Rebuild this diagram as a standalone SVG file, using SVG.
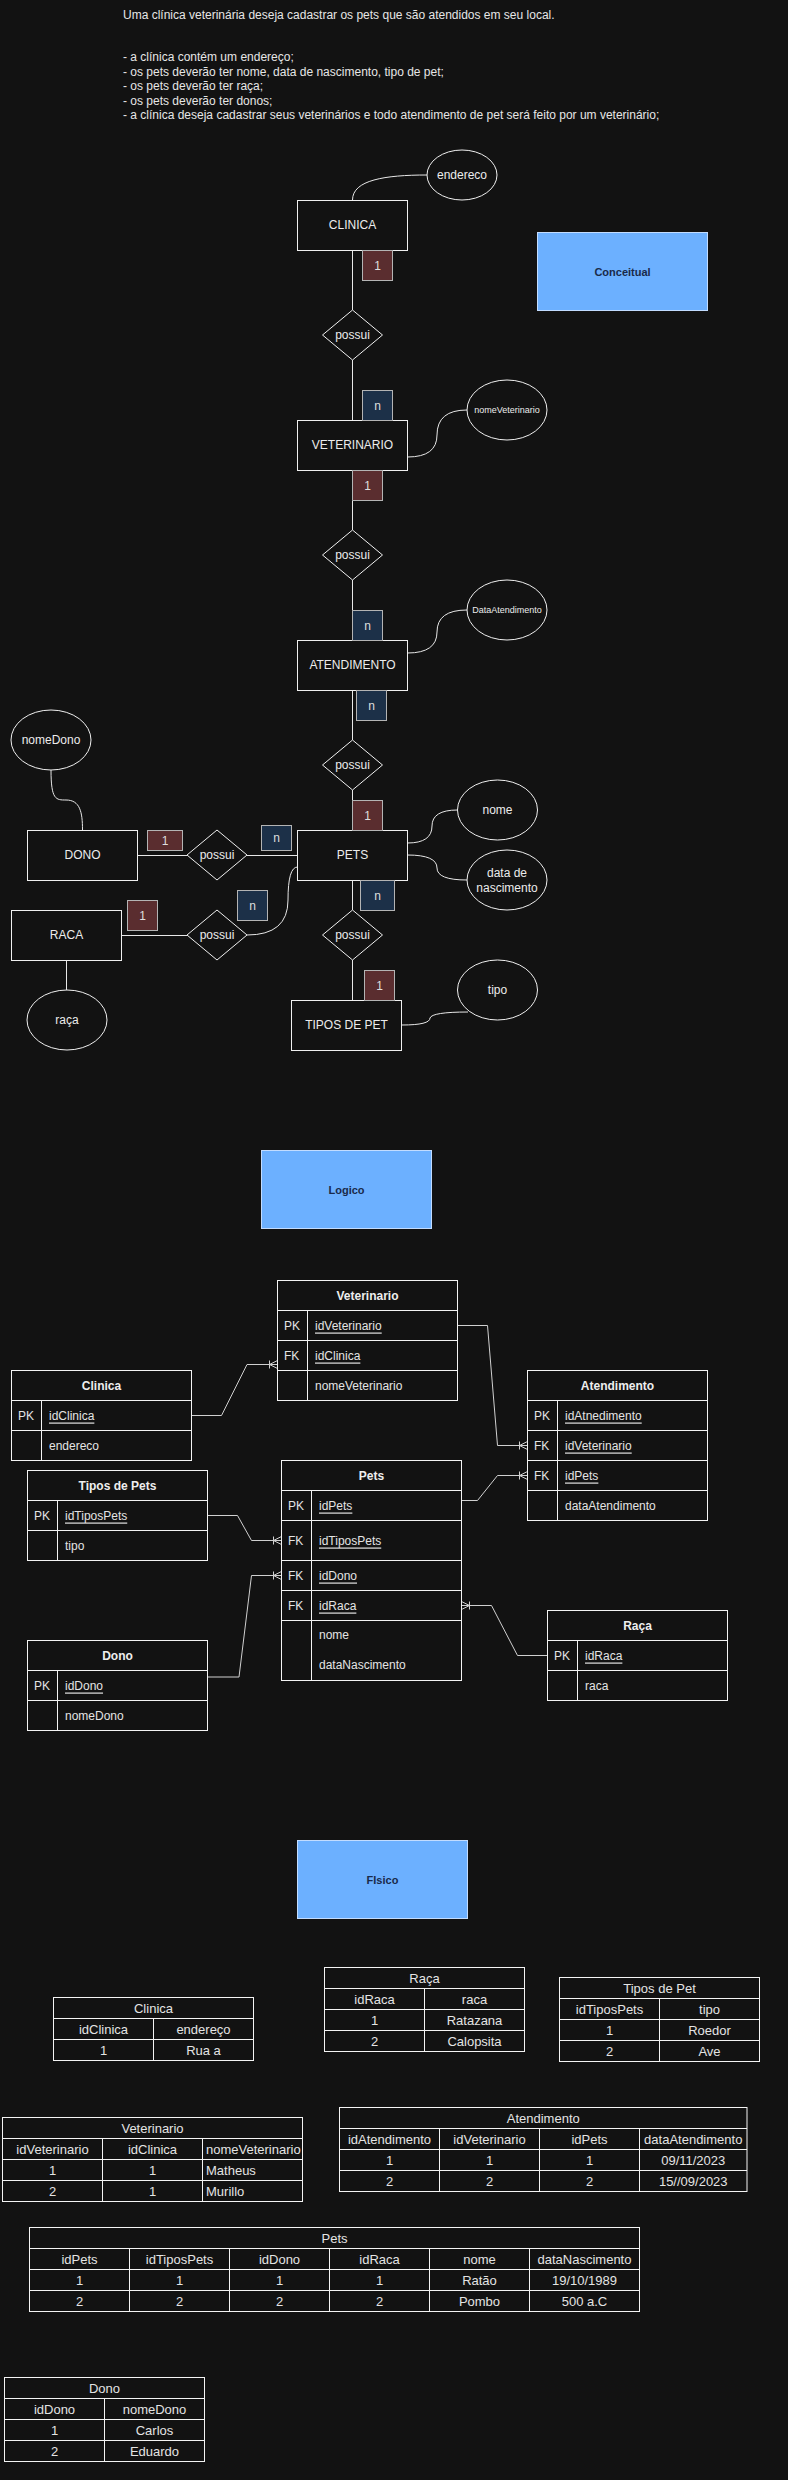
<svg xmlns="http://www.w3.org/2000/svg" width="788" height="2480" viewBox="0 0 788 2480">
<defs>
<style>
text{font-family:"Liberation Sans",Arial,Helvetica,sans-serif;fill:#ececec;}
.desc{font-size:12px;fill:#e6e6e6;}
.ent{fill:#121212;stroke:#f0f0f0;stroke-width:1;}
.lbl{font-size:12px;text-anchor:middle;dominant-baseline:central;}
.sm{font-size:9px;}
.one{fill:#5a2d2f;stroke:#b4b4b4;stroke-width:1;}
.many{fill:#1c3048;stroke:#b4b4b4;stroke-width:1;}
.card{font-size:12px;text-anchor:middle;dominant-baseline:central;fill:#dedede;}
.ln{fill:none;stroke:#e8e8e8;stroke-width:1;}
.blue{fill:#6cb0ff;stroke:#c2dcff;stroke-width:1;}
.btxt{font-size:11px;font-weight:bold;fill:#1a2a4a;text-anchor:middle;dominant-baseline:central;}
.tb{fill:#121212;stroke:#f4f4f4;stroke-width:1;}
.tl{stroke:#f4f4f4;stroke-width:1;fill:none;}
.th{font-size:12px;font-weight:bold;text-anchor:middle;dominant-baseline:central;fill:#eeeeee;}
.tk{font-size:12px;dominant-baseline:central;fill:#e4e4e4;}
.u{text-decoration:underline;}
.cn{fill:none;stroke:#d0d0d0;stroke-width:1;}
.pt{font-size:13px;text-anchor:middle;dominant-baseline:central;fill:#e4e4e4;}
.pl{font-size:13px;dominant-baseline:central;fill:#e4e4e4;}
</style>
<marker id="crow" viewBox="0 0 10 10" refX="10" refY="5" markerWidth="10" markerHeight="10" markerUnits="userSpaceOnUse" orient="auto">
<path d="M2,1 L2,9 M2,5 L10,1 M2,5 L10,9" fill="none" stroke="#d0d0d0" stroke-width="1"/>
</marker>
</defs>
<rect x="0" y="0" width="788" height="2480" fill="#121212"/>

<g id="descricao">
<text class="desc" x="123" y="18.5">Uma clínica veterinária deseja cadastrar os pets que são atendidos em seu local.</text>
<text class="desc" x="123" y="61">- a clínica contém um endereço;</text>
<text class="desc" x="123" y="75.5">- os pets deverão ter nome, data de nascimento, tipo de pet;</text>
<text class="desc" x="123" y="90">- os pets deverão ter raça;</text>
<text class="desc" x="123" y="104.5">- os pets deverão ter donos;</text>
<text class="desc" x="123" y="119">- a clínica deseja cadastrar seus veterinários e todo atendimento de pet será feito por um veterinário;</text>
</g>

<g id="conectores-conceitual">
<path class="ln" d="M352.5,250 L352.5,310 M352.5,360 L352.5,420 M352.5,470 L352.5,530 M352.5,580 L352.5,640 M352.5,690 L352.5,740 M352.5,790 L352.5,830 M352.5,880 L352.5,910 M352.5,960 L352.5,1000"/>
<path class="ln" d="M137.5,855.5 L187,855.5 M247,855.5 L297.5,855.5 M121.5,935.5 L187,935.5 M66.5,960 L66.5,990"/>
<path class="ln" d="M352.5,200 C352.5,180 385,175 427,175"/>
<path class="ln" d="M407.5,457 Q437,457 437,435 Q437,410 467,410"/>
<path class="ln" d="M407.5,653 Q437,653 437,632 Q437,610 467,610"/>
<path class="ln" d="M407.5,843 Q432,843 432,826 Q432,810 457.5,810"/>
<path class="ln" d="M407.5,855 Q437,855 437,868 Q437,880 467,880"/>
<path class="ln" d="M402,1025 Q430,1025 430,1018 Q432,1012 468,1012"/>
<path class="ln" d="M51,770 C51,800 56,800 66,800 C80,800 82.5,812 82.5,830"/>
<path class="ln" d="M247,935 Q288,935 288,900 Q288,867 297.5,867"/>
</g>

<g id="clinica"><rect class="ent" x="297.5" y="200.5" width="110" height="50"/><text class="lbl" x="352.5" y="225">CLINICA</text></g>
<g id="veterinario"><rect class="ent" x="297.5" y="420.5" width="110" height="50"/><text class="lbl" x="352.5" y="445">VETERINARIO</text></g>
<g id="atendimento"><rect class="ent" x="297.5" y="640.5" width="110" height="50"/><text class="lbl" x="352.5" y="665">ATENDIMENTO</text></g>
<g id="pets"><rect class="ent" x="297.5" y="830.5" width="110" height="50"/><text class="lbl" x="352.5" y="855">PETS</text></g>
<g id="tipos-de-pet"><rect class="ent" x="291.5" y="1000.5" width="110" height="50"/><text class="lbl" x="346.5" y="1025">TIPOS DE PET</text></g>
<g id="dono"><rect class="ent" x="27.5" y="830.5" width="110" height="50"/><text class="lbl" x="82.5" y="855">DONO</text></g>
<g id="raca"><rect class="ent" x="11.5" y="910.5" width="110" height="50"/><text class="lbl" x="66.5" y="935">RACA</text></g>

<g id="possui1"><polygon class="ent" points="352.5,310 382.5,335 352.5,360 322.5,335"/><text class="lbl" x="352.5" y="335">possui</text></g>
<g id="possui2"><polygon class="ent" points="352.5,530 382.5,555 352.5,580 322.5,555"/><text class="lbl" x="352.5" y="555">possui</text></g>
<g id="possui3"><polygon class="ent" points="352.5,740 382.5,765 352.5,790 322.5,765"/><text class="lbl" x="352.5" y="765">possui</text></g>
<g id="possui4"><polygon class="ent" points="352.5,910 382.5,935 352.5,960 322.5,935"/><text class="lbl" x="352.5" y="935">possui</text></g>
<g id="possui5"><polygon class="ent" points="217,830 247,855 217,880 187,855"/><text class="lbl" x="217" y="855">possui</text></g>
<g id="possui6"><polygon class="ent" points="217,910 247,935 217,960 187,935"/><text class="lbl" x="217" y="935">possui</text></g>

<g id="attr-endereco"><ellipse class="ent" cx="462" cy="175" rx="35" ry="25"/><text class="lbl" x="462" y="175">endereco</text></g>
<g id="attr-nomeVeterinario"><ellipse class="ent" cx="507" cy="410" rx="40" ry="30"/><text class="lbl sm" x="507" y="410">nomeVeterinario</text></g>
<g id="attr-DataAtendimento"><ellipse class="ent" cx="507" cy="610" rx="40" ry="30"/><text class="lbl sm" x="507" y="610">DataAtendimento</text></g>
<g id="attr-nome"><ellipse class="ent" cx="497.5" cy="810" rx="40" ry="30"/><text class="lbl" x="497.5" y="810">nome</text></g>
<g id="attr-dataNascimento"><ellipse class="ent" cx="507" cy="880" rx="40" ry="30"/><text class="lbl" x="507" y="873">data de</text><text class="lbl" x="507" y="888">nascimento</text></g>
<g id="attr-tipo"><ellipse class="ent" cx="497.5" cy="990" rx="40" ry="30"/><text class="lbl" x="497.5" y="990">tipo</text></g>
<g id="attr-nomeDono"><ellipse class="ent" cx="51" cy="740" rx="40" ry="30"/><text class="lbl" x="51" y="740">nomeDono</text></g>
<g id="attr-raca"><ellipse class="ent" cx="67" cy="1020" rx="40" ry="30"/><text class="lbl" x="67" y="1020">raça</text></g>

<g id="cardinalidades">
<rect class="one" x="362.5" y="250.5" width="30" height="30"/><text class="card" x="377.5" y="265.5">1</text>
<rect class="many" x="362.5" y="390.5" width="30" height="30"/><text class="card" x="377.5" y="405.5">n</text>
<rect class="one" x="352.5" y="470.5" width="30" height="30"/><text class="card" x="367.5" y="485.5">1</text>
<rect class="many" x="352.5" y="610.5" width="30" height="30"/><text class="card" x="367.5" y="625.5">n</text>
<rect class="many" x="356.5" y="690.5" width="30" height="30"/><text class="card" x="371.5" y="705.5">n</text>
<rect class="one" x="352.5" y="800.5" width="30" height="30"/><text class="card" x="367.5" y="815.5">1</text>
<rect class="one" x="147.5" y="830.5" width="35" height="20"/><text class="card" x="165" y="840.5">1</text>
<rect class="many" x="261.5" y="825.5" width="30" height="25"/><text class="card" x="276.5" y="838">n</text>
<rect class="many" x="360.5" y="880.5" width="34" height="30"/><text class="card" x="377.5" y="895.5">n</text>
<rect class="one" x="364.5" y="970.5" width="30" height="30"/><text class="card" x="379.5" y="985.5">1</text>
<rect class="one" x="127.5" y="900.5" width="30" height="30"/><text class="card" x="142.5" y="915.5">1</text>
<rect class="many" x="237.5" y="890.5" width="30" height="30"/><text class="card" x="252.5" y="905.5">n</text>
</g>

<g id="conceitual"><rect class="blue" x="537.5" y="232.5" width="170" height="78"/><text class="btxt" x="622.5" y="271.5">Conceitual</text></g>
<g id="logico"><rect class="blue" x="261.5" y="1150.5" width="170" height="78"/><text class="btxt" x="346.5" y="1189.5">Logico</text></g>
<g id="fisico"><rect class="blue" x="297.5" y="1840.5" width="170" height="78"/><text class="btxt" x="382.5" y="1879.5">FIsico</text></g>

<g id="conectores-logico">
<path class="cn" d="M191.5,1415.5 L221.5,1415.5 L247,1364.5 L277.5,1364.5" marker-end="url(#crow)"/>
<path class="cn" d="M457.5,1325.5 L487.5,1325.5 L497.5,1445.5 L527.5,1445.5" marker-end="url(#crow)"/>
<path class="cn" d="M447.5,1500.5 L477.5,1500.5 L497.5,1475.5 L527.5,1475.5" marker-end="url(#crow)"/>
<path class="cn" d="M207.5,1515.5 L237.5,1515.5 L251.5,1540.5 L281.5,1540.5" marker-end="url(#crow)"/>
<path class="cn" d="M207.5,1677 L239,1677 L251.5,1575.5 L281.5,1575.5" marker-end="url(#crow)"/>
<path class="cn" d="M547.5,1655.5 L517.5,1655.5 L491.5,1605.5 L461.5,1605.5" marker-end="url(#crow)"/>
</g>

<g id="l-veterinario">
<rect class="tb" x="277.5" y="1280.5" width="180" height="120"/>
<path class="tl" d="M277.5,1310.5 H457.5 M277.5,1340.5 H457.5 M277.5,1370.5 H457.5 M307.5,1310.5 V1400.5"/>
<text class="th" x="367.5" y="1295.5">Veterinario</text>
<text class="tk" x="284" y="1325.5">PK</text><text class="tk u" x="315" y="1325.5">idVeterinario</text>
<text class="tk" x="284" y="1355.5">FK</text><text class="tk u" x="315" y="1355.5">idClinica</text>
<text class="tk" x="315" y="1385.5">nomeVeterinario</text>
</g>
<g id="l-clinica">
<rect class="tb" x="11.5" y="1370.5" width="180" height="90"/>
<path class="tl" d="M11.5,1400.5 H191.5 M11.5,1430.5 H191.5 M41.5,1400.5 V1460.5"/>
<text class="th" x="101.5" y="1385.5">Clinica</text>
<text class="tk" x="18" y="1415.5">PK</text><text class="tk u" x="49" y="1415.5">idClinica</text>
<text class="tk" x="49" y="1445.5">endereco</text>
</g>
<g id="l-atendimento">
<rect class="tb" x="527.5" y="1370.5" width="180" height="150"/>
<path class="tl" d="M527.5,1400.5 H707.5 M527.5,1430.5 H707.5 M527.5,1460.5 H707.5 M527.5,1490.5 H707.5 M557.5,1400.5 V1520.5"/>
<text class="th" x="617.5" y="1385.5">Atendimento</text>
<text class="tk" x="534" y="1415.5">PK</text><text class="tk u" x="565" y="1415.5">idAtnedimento</text>
<text class="tk" x="534" y="1445.5">FK</text><text class="tk u" x="565" y="1445.5">idVeterinario</text>
<text class="tk" x="534" y="1475.5">FK</text><text class="tk u" x="565" y="1475.5">idPets</text>
<text class="tk" x="565" y="1505.5">dataAtendimento</text>
</g>
<g id="l-tipos-de-pets">
<rect class="tb" x="27.5" y="1470.5" width="180" height="90"/>
<path class="tl" d="M27.5,1500.5 H207.5 M27.5,1530.5 H207.5 M57.5,1500.5 V1560.5"/>
<text class="th" x="117.5" y="1485.5">Tipos de Pets</text>
<text class="tk" x="34" y="1515.5">PK</text><text class="tk u" x="65" y="1515.5">idTiposPets</text>
<text class="tk" x="65" y="1545.5">tipo</text>
</g>
<g id="l-pets">
<rect class="tb" x="281.5" y="1460.5" width="180" height="220"/>
<path class="tl" d="M281.5,1490.5 H461.5 M281.5,1520.5 H461.5 M281.5,1560.5 H461.5 M281.5,1590.5 H461.5 M281.5,1620.5 H461.5 M311.5,1490.5 V1680.5"/>
<text class="th" x="371.5" y="1475.5">Pets</text>
<text class="tk" x="288" y="1505.5">PK</text><text class="tk u" x="319" y="1505.5">idPets</text>
<text class="tk" x="288" y="1540.5">FK</text><text class="tk u" x="319" y="1540.5">idTiposPets</text>
<text class="tk" x="288" y="1575.5">FK</text><text class="tk u" x="319" y="1575.5">idDono</text>
<text class="tk" x="288" y="1605.5">FK</text><text class="tk u" x="319" y="1605.5">idRaca</text>
<text class="tk" x="319" y="1635">nome</text>
<text class="tk" x="319" y="1665">dataNascimento</text>
</g>
<g id="l-dono">
<rect class="tb" x="27.5" y="1640.5" width="180" height="90"/>
<path class="tl" d="M27.5,1670.5 H207.5 M27.5,1700.5 H207.5 M57.5,1670.5 V1730.5"/>
<text class="th" x="117.5" y="1655.5">Dono</text>
<text class="tk" x="34" y="1685.5">PK</text><text class="tk u" x="65" y="1685.5">idDono</text>
<text class="tk" x="65" y="1715.5">nomeDono</text>
</g>
<g id="l-raca">
<rect class="tb" x="547.5" y="1610.5" width="180" height="90"/>
<path class="tl" d="M547.5,1640.5 H727.5 M547.5,1670.5 H727.5 M577.5,1640.5 V1700.5"/>
<text class="th" x="637.5" y="1625.5">Raça</text>
<text class="tk" x="554" y="1655.5">PK</text><text class="tk u" x="585" y="1655.5">idRaca</text>
<text class="tk" x="585" y="1685.5">raca</text>
</g>

<g id="f-clinica">
<rect class="tb" x="53.5" y="1997.5" width="200" height="63"/>
<path class="tl" d="M53.5,2018.5 H253.5 M53.5,2039.5 H253.5 M153.5,2018.5 V2060.5"/>
<text class="pt" x="153.5" y="2008">Clinica</text>
<text class="pt" x="103.5" y="2029">idClinica</text><text class="pt" x="203.5" y="2029">endereço</text>
<text class="pt" x="103.5" y="2050">1</text><text class="pt" x="203.5" y="2050">Rua a</text>
</g>
<g id="f-raca">
<rect class="tb" x="324.5" y="1967.5" width="200" height="84"/>
<path class="tl" d="M324.5,1988.5 H524.5 M324.5,2009.5 H524.5 M324.5,2030.5 H524.5 M424.5,1988.5 V2051.5"/>
<text class="pt" x="424.5" y="1978">Raça</text>
<text class="pt" x="374.5" y="1999">idRaca</text><text class="pt" x="474.5" y="1999">raca</text>
<text class="pt" x="374.5" y="2020">1</text><text class="pt" x="474.5" y="2020">Ratazana</text>
<text class="pt" x="374.5" y="2041">2</text><text class="pt" x="474.5" y="2041">Calopsita</text>
</g>
<g id="f-tipos-de-pet">
<rect class="tb" x="559.5" y="1977.5" width="200" height="84"/>
<path class="tl" d="M559.5,1998.5 H759.5 M559.5,2019.5 H759.5 M559.5,2040.5 H759.5 M659.5,1998.5 V2061.5"/>
<text class="pt" x="659.5" y="1988">Tipos de Pet</text>
<text class="pt" x="609.5" y="2009">idTiposPets</text><text class="pt" x="709.5" y="2009">tipo</text>
<text class="pt" x="609.5" y="2030">1</text><text class="pt" x="709.5" y="2030">Roedor</text>
<text class="pt" x="609.5" y="2051">2</text><text class="pt" x="709.5" y="2051">Ave</text>
</g>
<g id="f-veterinario">
<rect class="tb" x="2.5" y="2117.5" width="300" height="84"/>
<path class="tl" d="M2.5,2138.5 H302.5 M2.5,2159.5 H302.5 M2.5,2180.5 H302.5 M102.5,2138.5 V2201.5 M202.5,2138.5 V2201.5"/>
<text class="pt" x="152.5" y="2128">Veterinario</text>
<text class="pt" x="52.5" y="2149">idVeterinario</text><text class="pt" x="152.5" y="2149">idClinica</text><text class="pl" x="206" y="2149">nomeVeterinario</text>
<text class="pt" x="52.5" y="2170">1</text><text class="pt" x="152.5" y="2170">1</text><text class="pl" x="206" y="2170">Matheus</text>
<text class="pt" x="52.5" y="2191">2</text><text class="pt" x="152.5" y="2191">1</text><text class="pl" x="206" y="2191">Murillo</text>
</g>
<g id="f-atendimento">
<rect class="tb" x="339.5" y="2107.5" width="407.5" height="84"/>
<path class="tl" d="M339.5,2128.5 H747 M339.5,2149.5 H747 M339.5,2170.5 H747 M439.5,2128.5 V2191.5 M539.5,2128.5 V2191.5 M639.5,2128.5 V2191.5"/>
<text class="pt" x="543.25" y="2118">Atendimento</text>
<text class="pt" x="389.5" y="2139">idAtendimento</text><text class="pt" x="489.5" y="2139">idVeterinario</text><text class="pt" x="589.5" y="2139">idPets</text><text class="pt" x="693.25" y="2139">dataAtendimento</text>
<text class="pt" x="389.5" y="2160">1</text><text class="pt" x="489.5" y="2160">1</text><text class="pt" x="589.5" y="2160">1</text><text class="pt" x="693.25" y="2160">09/11/2023</text>
<text class="pt" x="389.5" y="2181">2</text><text class="pt" x="489.5" y="2181">2</text><text class="pt" x="589.5" y="2181">2</text><text class="pt" x="693.25" y="2181">15//09/2023</text>
</g>
<g id="f-pets">
<rect class="tb" x="29.5" y="2227.5" width="610" height="84"/>
<path class="tl" d="M29.5,2248.5 H639.5 M29.5,2269.5 H639.5 M29.5,2290.5 H639.5 M129.5,2248.5 V2311.5 M229.5,2248.5 V2311.5 M329.5,2248.5 V2311.5 M429.5,2248.5 V2311.5 M529.5,2248.5 V2311.5"/>
<text class="pt" x="334.5" y="2238">Pets</text>
<text class="pt" x="79.5" y="2259">idPets</text><text class="pt" x="179.5" y="2259">idTiposPets</text><text class="pt" x="279.5" y="2259">idDono</text><text class="pt" x="379.5" y="2259">idRaca</text><text class="pt" x="479.5" y="2259">nome</text><text class="pt" x="584.5" y="2259">dataNascimento</text>
<text class="pt" x="79.5" y="2280">1</text><text class="pt" x="179.5" y="2280">1</text><text class="pt" x="279.5" y="2280">1</text><text class="pt" x="379.5" y="2280">1</text><text class="pt" x="479.5" y="2280">Ratão</text><text class="pt" x="584.5" y="2280">19/10/1989</text>
<text class="pt" x="79.5" y="2301">2</text><text class="pt" x="179.5" y="2301">2</text><text class="pt" x="279.5" y="2301">2</text><text class="pt" x="379.5" y="2301">2</text><text class="pt" x="479.5" y="2301">Pombo</text><text class="pt" x="584.5" y="2301">500 a.C</text>
</g>
<g id="f-dono">
<rect class="tb" x="4.5" y="2377.5" width="200" height="84"/>
<path class="tl" d="M4.5,2398.5 H204.5 M4.5,2419.5 H204.5 M4.5,2440.5 H204.5 M104.5,2398.5 V2461.5"/>
<text class="pt" x="104.5" y="2388">Dono</text>
<text class="pt" x="54.5" y="2409">idDono</text><text class="pt" x="154.5" y="2409">nomeDono</text>
<text class="pt" x="54.5" y="2430">1</text><text class="pt" x="154.5" y="2430">Carlos</text>
<text class="pt" x="54.5" y="2451">2</text><text class="pt" x="154.5" y="2451">Eduardo</text>
</g>
</svg>
